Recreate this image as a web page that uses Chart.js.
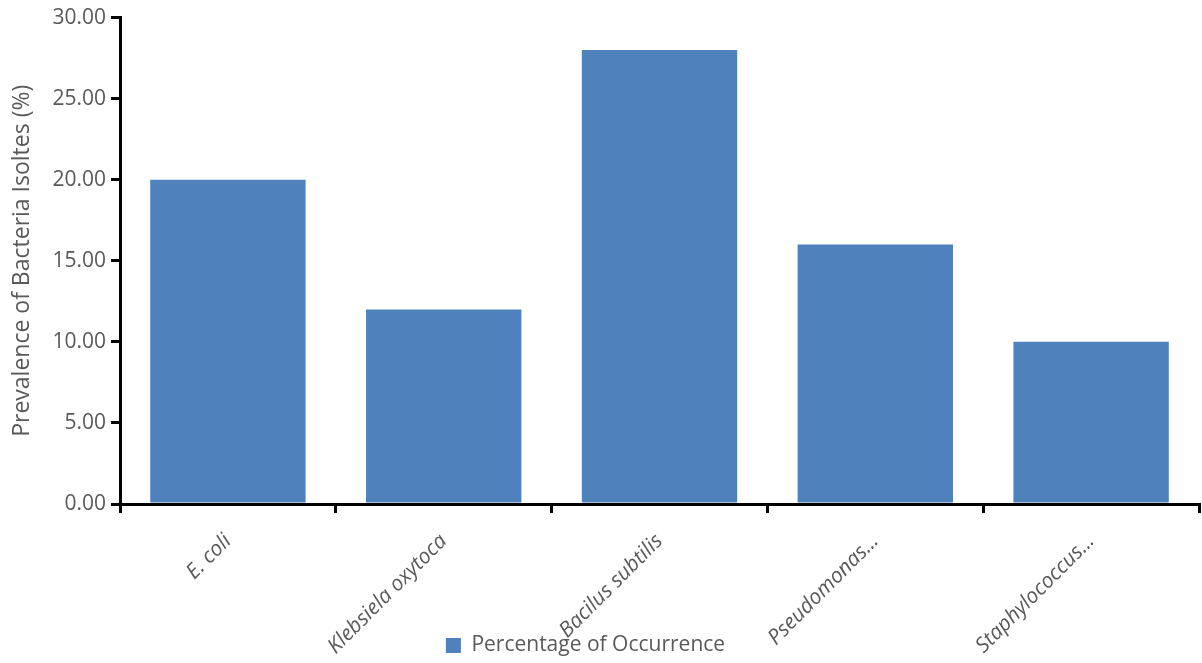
<!DOCTYPE html>
<html>
<head>
<meta charset="utf-8">
<script src="https://cdn.jsdelivr.net/npm/chart.js@4.4.0/dist/chart.umd.min.js"></script>
<style>
    html, body { margin: 0; padding: 0; background: #fff; }
    #wrap { width: 1202px; height: 663px; position: relative; }
</style>
</head>
<body>
<div id="wrap"><canvas id="chart"></canvas></div>
<script>
// values
const categories = ['E. coli', 'Klebsiela oxytoca', 'Bacilus subtilis', 'Pseudomonas...', 'Staphylococcus...'];
const occurrence = [20, 12, 28, 16, 10];
const seriesName = 'Percentage of Occurrence';
const yTitle = 'Prevalence of Bacteria Isoltes (%)';
const yMin = 0;
const yMax = 30;
const yStep = 5;

const textColor = '#595959';
const barColor = '#4F81BD';

// the legend sits over the rotated category labels, like the original
const overlapLegend = {
    id: 'overlapLegend',
    afterLayout(chart) {
        // let the x labels run past the reserved axis height instead of being clipped
        chart.scales.x.bottom = chart.height;
        const lg = chart.legend;
        lg.left -= 14;
        lg.right -= 14;
        lg.top += 3;
        lg.bottom += 3;
    }
};

const ctx = document.getElementById('chart').getContext('2d');
new Chart(ctx, {
    type: 'bar',
    data: {
        labels: categories,
        datasets: [{
            label: seriesName,
            data: occurrence,
            backgroundColor: barColor,
            borderWidth: 0,
            barPercentage: 0.72,
            categoryPercentage: 1
        }]
    },
    options: {
        responsive: true,
        maintainAspectRatio: false,
        animation: false,
        layout: {
            padding: { top: 8, right: 3, left: 0, bottom: 0 }
        },
        plugins: {
            tooltip: { enabled: false },
            legend: {
                position: 'bottom',
                labels: {
                    color: textColor,
                    boxWidth: 15,
                    boxHeight: 15,
                    padding: 8,
                    font: { family: 'Open Sans', size: 21 }
                }
            }
        },
        scales: {
            x: {
                border: { color: '#000', width: 3 },
                grid: {
                    offset: true,
                    drawOnChartArea: false,
                    drawTicks: true,
                    tickLength: 9,
                    color: '#000',
                    lineWidth: 3
                },
                ticks: {
                    color: textColor,
                    minRotation: 45,
                    maxRotation: 45,
                    autoSkip: false,
                    padding: 16,
                    font: { family: 'Open Sans', size: 21, style: 'italic' }
                },
                afterFit: (scale) => { scale.height = 120; }
            },
            y: {
                min: yMin,
                max: yMax,
                border: { color: '#000', width: 3 },
                grid: {
                    drawOnChartArea: false,
                    drawTicks: true,
                    tickLength: 9,
                    color: '#000',
                    lineWidth: 3
                },
                ticks: {
                    stepSize: yStep,
                    color: textColor,
                    padding: 5,
                    font: { family: 'Open Sans', size: 21 },
                    callback: (v) => Number(v).toFixed(2)
                },
                title: {
                    display: true,
                    text: yTitle,
                    color: textColor,
                    padding: { top: 9, bottom: 0 },
                    font: { family: 'Open Sans', size: 23 }
                },
                afterFit: (scale) => { scale.width = 120; }
            }
        }
    },
    plugins: [overlapLegend]
});
</script>
</body>
</html>
